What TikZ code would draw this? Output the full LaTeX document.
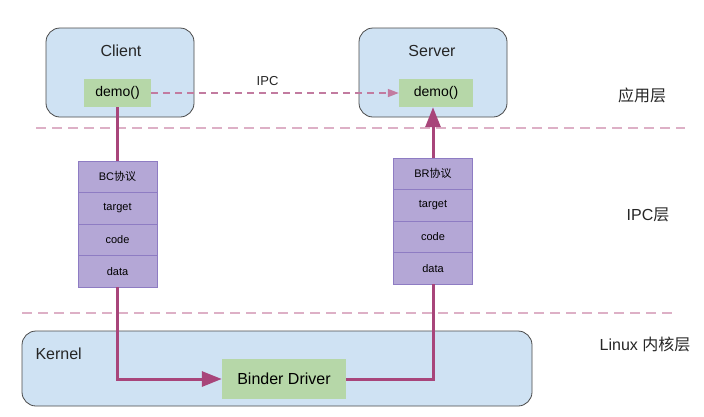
\documentclass[tikz,border=0pt]{standalone}
\usepackage{fontspec}
\setmainfont{Liberation Sans}
\newfontfamily\cjk{Noto Sans CJK SC}
\usetikzlibrary{arrows.meta}
\definecolor{boxblue}{HTML}{CFE2F3}
\definecolor{boxgreen}{HTML}{B6D7A8}
\definecolor{stackpurple}{HTML}{B4A7D6}
\definecolor{stackline}{HTML}{8E7CC3}
\definecolor{flow}{HTML}{A8457A}
\definecolor{ipcline}{HTML}{C27BA0}
\definecolor{sepline}{HTML}{DDB0C6}
\definecolor{boxedge}{HTML}{4A4A4A}
\tikzset{
  layerbox/.style={draw=boxedge,fill=boxblue,line width=0.8pt,rounded corners=14pt,inner sep=0pt},
  func/.style={fill=boxgreen,inner sep=0pt,font=\fontsize{14}{16}\selectfont},
  row/.style={draw=stackline,fill=stackpurple,line width=0.8pt,minimum width=79pt,minimum height=31.5pt,inner sep=0pt,font=\fontsize{11}{13}\selectfont},
  title/.style={font=\fontsize{16}{19}\selectfont,text=black!85},
  sep/.style={sepline,line width=1.2pt,dash pattern=on 10pt off 6pt},
  flowline/.style={flow,line width=3pt},
  bigtip/.style={-{Triangle[length=20pt,width=15pt]}}
}
\begin{document}
\begin{tikzpicture}[x=1pt,y=-1pt]
\useasboundingbox[fill=white] (0,0) rectangle (704,416);
% layers
\draw[sep](36,128)--(685,128);
\draw[sep](22,313)--(672,313);
\node[title] (applayer) at (642,95) {\cjk 应用层};
\node[title] (ipclayer) at (648,215) {IPC{\cjk 层}};
\node[title] (kernellayer) at (645,344) {Linux {\cjk 内核层}};
% client and server
\node[layerbox,minimum width=148pt,minimum height=89pt] (client) at (120,72.5) {};
\node[title] (clienttitle) at (121,51) {Client};
\node[func,minimum width=67pt,minimum height=28pt] (cdemo) at (117.5,93) {demo()};
\node[layerbox,minimum width=148pt,minimum height=89pt] (server) at (433,72.5) {};
\node[title] (servertitle) at (432,51) {Server};
\node[func,minimum width=74pt,minimum height=28pt] (sdemo) at (436,93) {demo()};
\draw[ipcline,line width=1.5pt,dash pattern=on 7pt off 5pt,-{Triangle[length=11pt,width=8pt]}](cdemo)--(sdemo)
  node[pos=0.47,above=3pt,text=black!85,font=\fontsize{13}{15}\selectfont]{IPC};
% protocol stacks
\foreach \t [count=\i] in {{BC\cjk 协议},target,code,data}
  \node[row] (bc\i) at (117.5,{145.25+31.5*\i}) {\t};
\foreach \t [count=\i] in {{BR\cjk 协议},target,code,data}
  \node[row] (br\i) at (433,{142.25+31.5*\i}) {\t};
% kernel
\node[layerbox,minimum width=510pt,minimum height=75pt] (kernel) at (277,368.5) {};
\node[title,anchor=west] (kerneltitle) at (32,354) {Kernel};
\node[func,minimum width=124pt,minimum height=40pt,font=\fontsize{16}{19}\selectfont] (binder) at (284,379) {Binder Driver};
% flow
\draw[flowline](cdemo)--(bc1);
\draw[flowline,bigtip](bc4.south)|-(binder);
\draw[flowline](binder)-|(br4.south);
\draw[flowline,bigtip](br1.north)--(br1.north|-sdemo.south);
\end{tikzpicture}
\end{document}
